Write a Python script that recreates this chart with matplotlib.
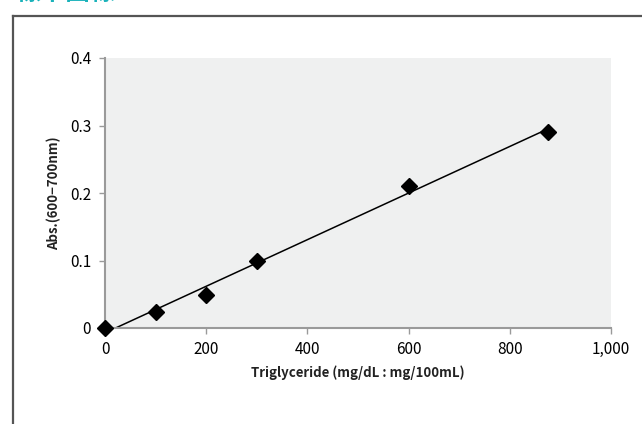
import numpy as np
import matplotlib.pyplot as plt
from matplotlib.lines import Line2D

plt.rcParams['font.family'] = ['Noto Sans CJK JP', 'DejaVu Sans']

# 標準曲線のデータ
conc = [0, 100, 200, 300, 600, 875]
absorb = [0, 0.024, 0.049, 0.1, 0.21, 0.29]
xticks = [0, 200, 400, 600, 800, 1000]
xticklabels = ['0', '200', '400', '600', '800', '1,000']
yticks = [0, 0.1, 0.2, 0.3, 0.4]
yticklabels = ['0', '0.1', '0.2', '0.3', '0.4']

fig = plt.figure(figsize=(6.42, 4.24), dpi=100)
ax = fig.add_axes([105/642, 1 - 328/424, 506/642, 270/424])
ax.set_facecolor('#eff0f0')

# 近似直線
a, b = np.polyfit(conc, absorb, 1)
xl = np.array([0, conc[-1]])
ax.plot(xl, a*xl + b, color='black', lw=1.1, zorder=2)
ax.plot(conc, absorb, linestyle='none', marker='D', ms=8.5, color='black',
        zorder=3, clip_on=False)

ax.set_xlim(0, 1000)
ax.set_ylim(0, 0.4)
ax.set_xticks(xticks)
ax.set_xticklabels(xticklabels)
ax.set_yticks(yticks)
ax.set_yticklabels(yticklabels)
for s in ['top', 'right']:
    ax.spines[s].set_visible(False)
for s in ['left', 'bottom']:
    ax.spines[s].set_color('#9a9a9a')
    ax.spines[s].set_linewidth(1.5)
ax.tick_params(colors='#9a9a9a', length=4, width=1, labelcolor='black',
               labelsize=11)
ax.tick_params(axis='x', pad=5)
ax.tick_params(axis='y', pad=6)

ax.set_xlabel('Triglyceride (mg/dL : mg/100mL)', fontsize=9.5,
              fontweight='bold', labelpad=6, color='#222222')
ax.set_ylabel('Abs.(600\u2212700nm)', fontsize=9.5, fontweight='bold',
              labelpad=6, color='#222222')

# 外枠
fig.add_artist(Line2D([12.5/642, 12.5/642], [0, 1 - 15.5/424],
                      color='#555555', lw=1.6))
fig.add_artist(Line2D([12.5/642, 1], [1 - 15.5/424, 1 - 15.5/424],
                      color='#555555', lw=1.6))

fig.text(15/642, 1 - 5/424, '標準曲線', color='#1ab2ba', fontsize=18,
         fontweight='bold', va='bottom', ha='left')

fig.savefig('out.png', dpi=100)
